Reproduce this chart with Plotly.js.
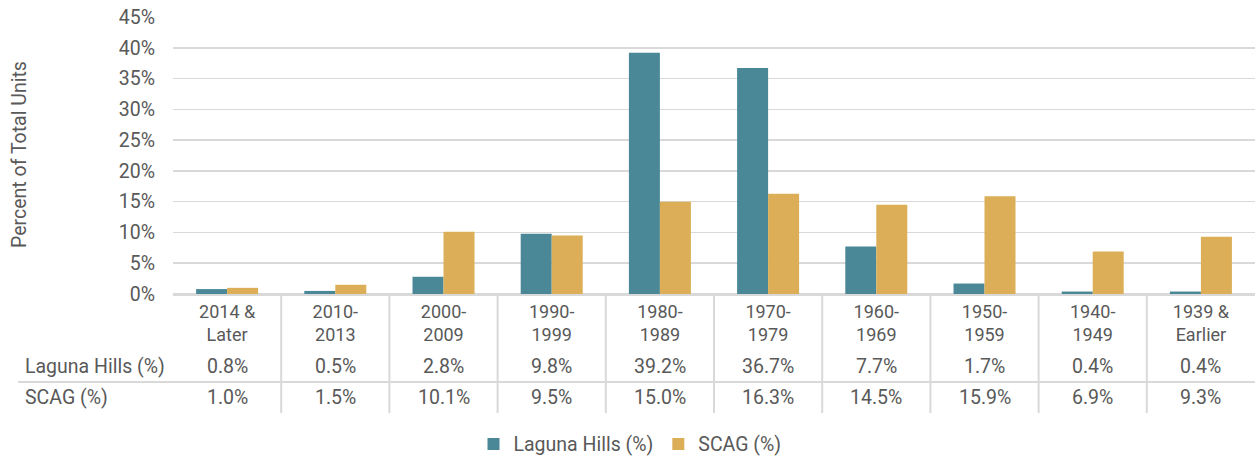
<!DOCTYPE html>
<html>
<head>
<meta charset="utf-8">
<script src="https://cdn.plot.ly/plotly-3.0.1.min.js"></script>
<style>html,body{margin:0;padding:0;background:#fff;}#chart{width:1260px;height:457px;}</style>
</head>
<body>
<div id="chart"></div>
<script>
const categories = ['2014 & Later','2010-2013','2000-2009','1990-1999','1980-1989','1970-1979','1960-1969','1950-1959','1940-1949','1939 & Earlier'];
const tickLabels = ['2014 &<br>Later','2010-<br>2013','2000-<br>2009','1990-<br>1999','1980-<br>1989','1970-<br>1979','1960-<br>1969','1950-<br>1959','1940-<br>1949','1939 &<br>Earlier'];
const lagunaHills = [0.8,0.5,2.8,9.8,39.2,36.7,7.7,1.7,0.4,0.4];
const scag = [1.0,1.5,10.1,9.5,15.0,16.3,14.5,15.9,6.9,9.3];
const seriesNames = ['Laguna Hills (%)','SCAG (%)'];
const yTitle = 'Percent of Total Units';

const FONT = 'Roboto, "Liberation Sans", sans-serif';
const FS = 19.5;
const TXT = '#595959';
const GRID = '#D9D9D9';
const colors = ['#4A8897','#DBAE57'];

const traces = [lagunaHills, scag].map((vals, k) => ({
  type: 'bar', name: seriesNames[k], x: categories, y: vals,
  marker: {color: colors[k]}, hoverinfo: 'skip'
}));

const annotations = [];
const rowY = [-0.26, -0.375];
[lagunaHills, scag].forEach((vals, k) => {
  annotations.push({xref:'paper', yref:'paper', x:-0.1386, y:rowY[k], xanchor:'left', yanchor:'middle',
    text: seriesNames[k], showarrow:false, font:{family:FONT, size:FS, color:TXT}});
  vals.forEach((v, i) => annotations.push({xref:'x', yref:'paper', x:categories[i], y:rowY[k],
    xanchor:'center', yanchor:'middle', text: v.toFixed(1)+'%', showarrow:false,
    font:{family:FONT, size:FS, color:TXT}}));
});
annotations.push({xref:'paper', yref:'paper', x:-0.1414, y:0.502, xanchor:'center', yanchor:'middle',
  textangle:-90, text:yTitle, showarrow:false, font:{family:FONT, size:FS, color:TXT}});

const shapes = [];
for (let i = 0; i < categories.length - 1; i++) {
  shapes.push({type:'line', xref:'x', yref:'paper', x0:i+0.5, x1:i+0.5, y0:-0.43, y1:0,
    line:{color:GRID, width:2}});
}
shapes.push({type:'line', xref:'paper', yref:'paper', x0:-0.1432, x1:1, y0:-0.318, y1:-0.318,
  line:{color:GRID, width:2}});

const layout = {
  width:1260, height:457,
  margin:{l:173, r:5, t:17, b:163},
  paper_bgcolor:'#fff', plot_bgcolor:'#fff',
  barmode:'group', bargap:0.427, bargroupgap:0,
  font:{family:FONT, size:FS, color:TXT},
  xaxis:{type:'category', tickvals:categories, ticktext:tickLabels, showgrid:false,
    showline:true, linecolor:GRID, linewidth:2, ticks:'', tickfont:{family:FONT, size:18, color:TXT},
    fixedrange:true},
  yaxis:{range:[0,45], dtick:5, ticksuffix:'%', showgrid:true, gridcolor:GRID, gridwidth:1.5,
    zeroline:true, zerolinecolor:GRID, zerolinewidth:2, ticks:'', ticklabelstandoff:17,
    tickfont:{family:FONT, size:FS, color:TXT}, fixedrange:true},
  showlegend:true,
  legend:{orientation:'h', xref:'container', yref:'container', x:0.5, y:0.028,
    xanchor:'center', yanchor:'middle', font:{family:FONT, size:FS, color:TXT}},
  annotations: annotations,
  shapes: shapes
};

Plotly.newPlot('chart', traces, layout, {displayModeBar:false, staticPlot:true});
</script>
</body>
</html>
